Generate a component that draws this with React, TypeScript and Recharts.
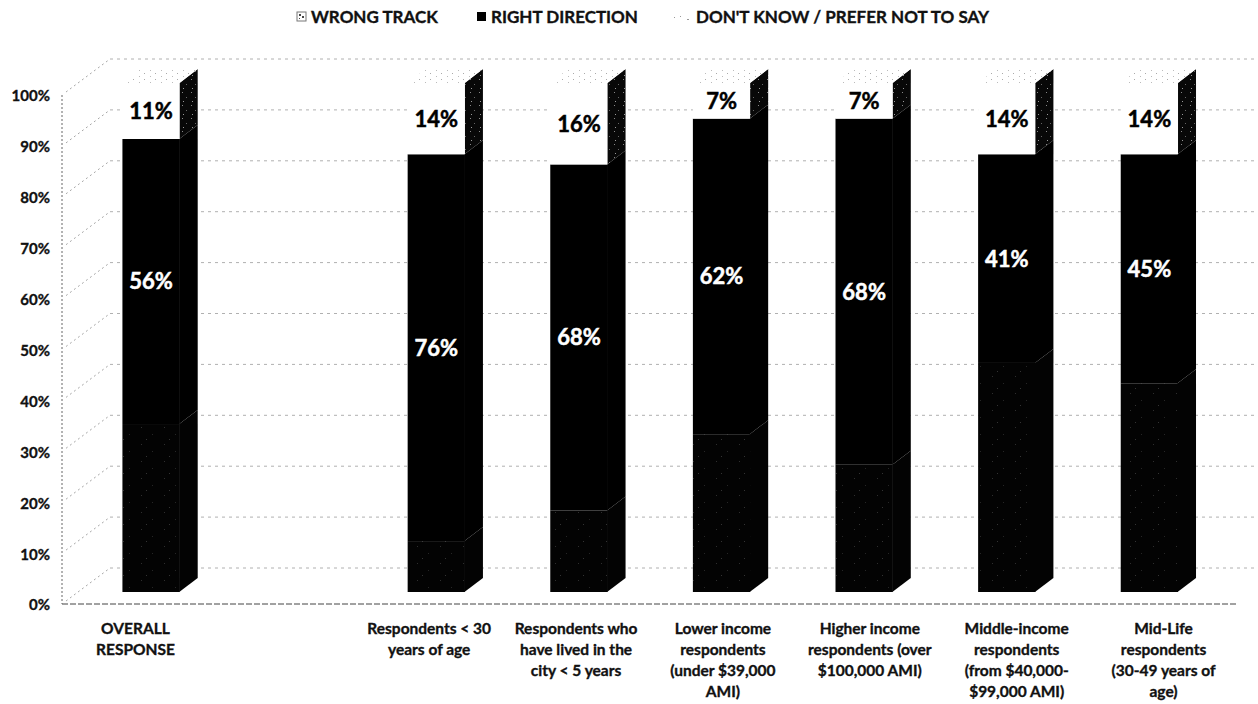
import { BarChart, Bar, XAxis, YAxis, CartesianGrid, Legend, LabelList } from 'recharts'

// survey groups, one slot left empty after the overall figure
const categories = [
  'OVERALL\nRESPONSE',
  ' ',
  'Respondents < 30\nyears of age',
  'Respondents who\nhave lived in the\ncity < 5 years',
  'Lower income\nrespondents\n(under $39,000\nAMI)',
  'Higher income\nrespondents (over\n$100,000 AMI)',
  'Middle-income\nrespondents\n(from $40,000-\n$99,000 AMI)',
  'Mid-Life\nrespondents\n(30-49 years of\nage)',
]
const wrongTrack = [33, null, 10, 16, 31, 25, 45, 41]
const rightDirection = [56, null, 76, 68, 62, 68, 41, 45]
const dontKnow = [11, null, 14, 16, 7, 7, 14, 14]
const yTicks = [0, 10, 20, 30, 40, 50, 60, 70, 80, 90, 100]

const data = categories.map((name, i) => ({
  name,
  wrong: wrongTrack[i],
  right: rightDirection[i],
  dk: dontKnow[i],
}))

const W = 1258
const H = 704
const PLOT_LEFT = 62
const FONT = 'Lato, "Open Sans", sans-serif'

// bars sit a little behind the front plane: narrower spacing, shifted up/right
const K = 0.971
const SHIFT_X = 17.7
const SHIFT_Y = -12
// side/top face of each box
const DX = 18
const DY = 14
// back wall offset from the front axis
const WALL_DX = 48
const WALL_DY = 36

function project(x: number, y: number, w: number) {
  const cx = x + w / 2
  const ncx = PLOT_LEFT + K * (cx - PLOT_LEFT) + SHIFT_X
  const nw = w * K
  return { x: ncx - nw / 2, y: y + SHIFT_Y, w: nw }
}

function makeBox(front: string, side: string, top?: string) {
  return (props: any) => {
    const { x, y, width, height } = props
    if (height == null || height <= 0) return <g />
    const p = project(x, y, width)
    const r = p.x + p.w
    const b = p.y + height
    return (
      <g>
        <polygon
          points={`${r - 0.5},${p.y} ${r + DX},${p.y - DY} ${r + DX},${b - DY} ${r - 0.5},${b}`}
          fill={side}
        />
        {top && (
          <polygon
            points={`${p.x},${p.y} ${p.x + DX},${p.y - DY} ${r + DX},${p.y - DY} ${r},${p.y}`}
            fill={top}
          />
        )}
        <rect x={p.x} y={p.y} width={p.w} height={height} fill={front} />
      </g>
    )
  }
}

const valueLabel = (color: string) => (props: any) => {
  const { x, y, width, height, value } = props
  if (value == null) return null
  const p = project(x, y, width)
  return (
    <text
      x={p.x + p.w / 2}
      y={p.y + height / 2}
      dy="0.36em"
      textAnchor="middle"
      fill={color}
      stroke={color}
      strokeWidth={0.5}
      fontFamily={FONT}
      fontWeight={700}
      fontSize={22}
    >
      {value}%
    </text>
  )
}

const CategoryTick = ({ x, y, payload }: any) => {
  const lines = String(payload.value).split('\n')
  return (
    <text
      x={x}
      y={y}
      textAnchor="middle"
      fontFamily={FONT}
      fontWeight={700}
      fontSize={15.5}
      fill="#111"
      stroke="#111"
      strokeWidth={0.35}
    >
      {lines.map((l, i) => (
        <tspan key={i} x={x} dy={i === 0 ? 22 : 21}>
          {l}
        </tspan>
      ))}
    </text>
  )
}

const PercentTick = ({ y, payload }: any) => (
  <text
    x={50}
    y={y + 1}
    dy="0.36em"
    textAnchor="end"
    fontFamily={FONT}
    fontWeight={700}
    fontSize={15}
    fill="#111"
    stroke="#111"
    strokeWidth={0.35}
  >
    {payload.value}%
  </text>
)

// back wall gridline plus the matching diagonal on the left wall
const wallLine = (props: any) => {
  const { x1, y1, x2, key } = props
  return (
    <g key={key}>
      <line
        x1={x1 + 4}
        y1={y1 - 3}
        x2={x1 + WALL_DX}
        y2={y1 - WALL_DY}
        stroke="#a8a8a8"
        strokeWidth={1}
        strokeDasharray="2 3"
      />
      <line
        x1={x1 + WALL_DX}
        y1={y1 - WALL_DY}
        x2={x2 + WALL_DX}
        y2={y1 - WALL_DY}
        stroke="#b0b0b0"
        strokeWidth={1}
        strokeDasharray="3 4"
      />
    </g>
  )
}

const legendItems = [
  { label: 'WRONG TRACK', icon: 'wrong', left: 296 },
  { label: 'RIGHT DIRECTION', icon: 'right', left: 476 },
  { label: "DON'T KNOW / PREFER NOT TO SAY", icon: 'dk', left: 668 },
]

const LegendIcon = ({ kind }: { kind: string }) => (
  <svg width={kind === 'dk' ? 24 : 11} height={11} style={{ marginRight: 4 }}>
    {kind === 'wrong' && (
      <g>
        <rect x={1} y={1} width={9} height={9} fill="#fff" stroke="#777" strokeWidth={1} />
        <rect x={3} y={3} width={2} height={2} fill="#444" />
        <rect x={6} y={5} width={2} height={2} fill="#444" />
        <rect x={3} y={7} width={1} height={1} fill="#444" />
      </g>
    )}
    {kind === 'right' && <rect x={1} y={1} width={9} height={9} fill="#000" />}
    {kind === 'dk' && (
      <g fill="#999">
        <rect x={6} y={6} width={1} height={1} />
        <rect x={12} y={5} width={1} height={1} />
        <rect x={19} y={8} width={2} height={1} />
      </g>
    )}
  </svg>
)

const renderLegend = () => (
  <div style={{ position: 'relative', width: W, height: 24 }}>
    {legendItems.map((it) => (
      <div
        key={it.label}
        style={{
          position: 'absolute',
          left: it.left,
          top: 0,
          display: 'flex',
          alignItems: 'center',
          fontFamily: FONT,
          fontWeight: 700,
          fontSize: 17,
          color: '#111',
          whiteSpace: 'nowrap',
          WebkitTextStroke: '0.35px #111',
        }}
      >
        <LegendIcon kind={it.icon} />
        {it.label}
      </div>
    ))}
  </div>
)

export default function App() {
  return (
    <div style={{ position: 'absolute', left: 0, top: 0, width: W, height: H, background: '#fff' }}>
      <BarChart
        width={W}
        height={H}
        data={data}
        margin={{ top: 95, right: 21, bottom: 0, left: 0 }}
        barSize={59}
      >
        <defs>
          <pattern id="darkSpeckle" width="23" height="17" patternUnits="userSpaceOnUse">
            <rect width="23" height="17" fill="#030303" />
            <rect x="3" y="2" width="1" height="1" fill="#2e2e2e" />
            <rect x="14" y="9" width="1" height="1" fill="#262626" />
            <rect x="8" y="14" width="1" height="1" fill="#333" />
          </pattern>
          <pattern id="sideSpeckle" width="9" height="13" patternUnits="userSpaceOnUse">
            <rect width="9" height="13" fill="#080808" />
            <rect x="2" y="1" width="1" height="1" fill="#888" />
            <rect x="6" y="6" width="1" height="1" fill="#666" />
            <rect x="3" y="10" width="1" height="1" fill="#999" />
          </pattern>
          <pattern id="topSpeckle" width="11" height="6" patternUnits="userSpaceOnUse">
            <rect width="11" height="6" fill="#fff" />
            <rect x="1" y="1" width="1" height="1" fill="#aaa" />
            <rect x="7" y="4" width="1" height="1" fill="#bbb" />
          </pattern>
        </defs>
        <CartesianGrid vertical={false} horizontal={wallLine} />
        <Legend
          verticalAlign="middle"
          layout="horizontal"
          wrapperStyle={{ top: 6, left: 0, width: W }}
          content={renderLegend}
        />
        <XAxis
          dataKey="name"
          height={100}
          interval={0}
          tickLine={false}
          axisLine={{ stroke: '#444', strokeDasharray: '6 2' }}
          tick={<CategoryTick />}
        />
        <YAxis
          width={62}
          domain={[0, 100]}
          ticks={yTicks}
          tickLine={false}
          axisLine={{ stroke: '#666', strokeDasharray: '2 2' }}
          tick={<PercentTick />}
        />
        <Bar dataKey="wrong" stackId="a" isAnimationActive={false} shape={makeBox('url(#darkSpeckle)', '#030303')} />
        <Bar dataKey="right" stackId="a" isAnimationActive={false} shape={makeBox('#000', '#000')}>
          <LabelList dataKey="right" content={valueLabel('#fff')} />
        </Bar>
        <Bar
          dataKey="dk"
          stackId="a"
          isAnimationActive={false}
          shape={makeBox('#fff', 'url(#sideSpeckle)', 'url(#topSpeckle)')}
        >
          <LabelList dataKey="dk" content={valueLabel('#000')} />
        </Bar>
      </BarChart>
    </div>
  )
}
